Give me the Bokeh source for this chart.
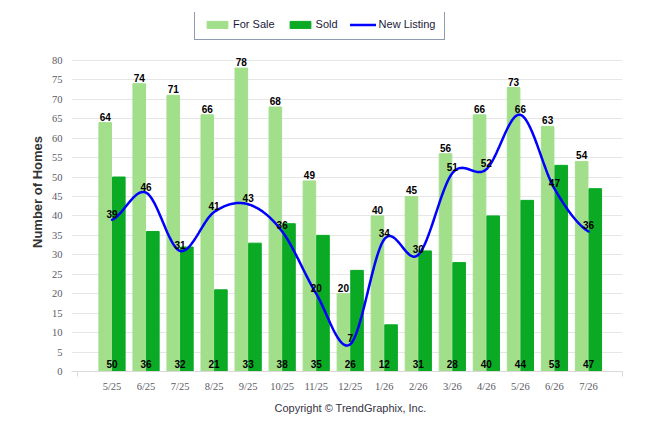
import numpy as np
from bokeh.plotting import figure
from bokeh.models import FixedTicker, Legend, Title
from bokeh.core.properties import value
from bokeh.embed import file_html
from bokeh.resources import INLINE

## Data
months = ["5/25", "6/25", "7/25", "8/25", "9/25", "10/25", "11/25", "12/25",
          "1/26", "2/26", "3/26", "4/26", "5/26", "6/26", "7/26"]
for_sale = [64, 74, 71, 66, 78, 68, 49, 20, 40, 45, 56, 66, 73, 63, 54]
sold = [50, 36, 32, 21, 33, 38, 35, 26, 12, 31, 28, 40, 44, 53, 47]
new_listing = [39, 46, 31, 41, 43, 36, 20, 7, 34, 30, 51, 52, 66, 47, 36]
y_ticks = list(range(0, 81, 5))

idx = np.arange(len(months))


def catmull_rom(x, y, steps=24):
    """smooth curve through the points (uniform spacing)"""
    y = np.asarray(y, dtype=float)
    n = len(y)
    m = np.zeros(n)
    m[1:-1] = (y[2:] - y[:-2]) / 2.0
    m[0] = (y[1] - y[0]) / 2.0
    m[-1] = (y[-1] - y[-2]) / 2.0
    xs, ys = [], []
    for i in range(n - 1):
        s = np.linspace(0, 1, steps, endpoint=(i == n - 2))
        h00 = 2 * s**3 - 3 * s**2 + 1
        h10 = s**3 - 2 * s**2 + s
        h01 = -2 * s**3 + 3 * s**2
        h11 = s**3 - s**2
        xs.extend(x[i] + s * (x[i + 1] - x[i]))
        ys.extend(h00 * y[i] + h10 * m[i] + h01 * y[i + 1] + h11 * m[i + 1])
    return xs, ys


p = figure(width=630, height=418, x_range=(-1.19, 15.0), y_range=(0, 92.3),
           output_backend="svg", toolbar_location=None,
           min_border_left=71, min_border_right=8, min_border_top=12, min_border_bottom=46)
p.outline_line_color = None
p.xgrid.visible = False
p.ygrid.grid_line_color = "#e6e6e6"
p.ygrid.ticker = FixedTicker(ticks=y_ticks)

tick_font = "Liberation Sans Narrow"

# y axis
p.yaxis.ticker = FixedTicker(ticks=y_ticks)
p.yaxis.axis_line_color = None
p.yaxis.major_tick_line_color = None
p.yaxis.minor_tick_line_color = None
p.yaxis.major_label_standoff = 3
p.yaxis.major_label_text_font = tick_font
p.yaxis.major_label_text_font_size = "10.5px"
p.yaxis.major_label_text_color = "#5a5a66"
p.yaxis.axis_label = "Number of Homes"
p.yaxis.axis_label_text_font = "Liberation Sans"
p.yaxis.axis_label_text_font_size = "13px"
p.yaxis.axis_label_text_font_style = "bold"
p.yaxis.axis_label_text_color = "#333333"
p.yaxis.axis_label_standoff = 4

# x axis
p.xaxis.ticker = FixedTicker(ticks=list(idx), minor_ticks=[-1, 15])
p.xaxis.major_label_overrides = {int(i): m for i, m in zip(idx, months)}
p.xaxis.axis_line_color = "#d9d9d9"
p.xaxis.major_tick_line_color = None
p.xaxis.minor_tick_line_color = "#d9d9d9"
p.xaxis.minor_tick_in = 0
p.xaxis.minor_tick_out = 5
p.xaxis.major_label_standoff = 3
p.xaxis.major_label_text_font = tick_font
p.xaxis.major_label_text_font_size = "10.5px"
p.xaxis.major_label_text_color = "#5a5a66"

# bars and line
fs = p.vbar(x=idx - 0.2, top=for_sale, width=0.37, color="#a2df8b")
sd = p.vbar(x=idx + 0.2, top=sold, width=0.37, color="#0aaa24")
lx, ly = catmull_rom(idx, new_listing)
nl = p.line(lx, ly, line_color="#0000ff", line_width=2.5, line_cap="round")

# value labels
lbl = dict(text_font=value("Liberation Sans"), text_font_size="10px",
           text_font_style="bold", text_color="black", text_align="center")
p.text(x=idx - 0.2, y=for_sale, text=[str(v) for v in for_sale],
       text_baseline="bottom", y_offset=-2, **lbl)
p.text(x=idx, y=[0] * len(sold), text=[str(v) for v in sold],
       text_baseline="middle", y_offset=-8, **lbl)
p.text(x=idx, y=new_listing, text=[str(v) for v in new_listing],
       text_baseline="bottom", y_offset=-2, **lbl)

legend = Legend(items=[("For Sale", [fs]), ("Sold", [sd]), ("New Listing", [nl])],
                orientation="horizontal", location=(123, 331),
                glyph_width=26, glyph_height=9, label_height=12,
                label_standoff=3, spacing=12, padding=9, margin=0,
                label_text_font="Liberation Sans", label_text_font_size="11px",
                label_text_color="#1a1a3a",
                border_line_color="#203864", border_line_width=1.5,
                background_fill_color="white", background_fill_alpha=1)
p.add_layout(legend)

p.add_layout(Title(text="Copyright \u00a9 TrendGraphix, Inc.", align="left", offset=203,
                   text_font="Liberation Sans", text_font_size="11px",
                   text_font_style="normal", text_color="#333344"), "below")

open("out.html", "w").write(file_html(p, INLINE))
